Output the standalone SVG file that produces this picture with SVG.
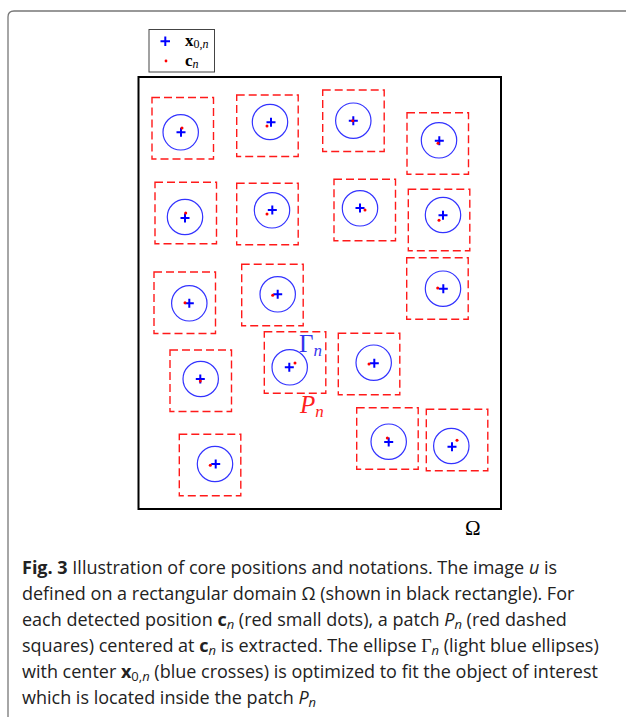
<svg xmlns="http://www.w3.org/2000/svg" width="626" height="717" viewBox="0 0 626 717">
<style>
.sq{fill:none;stroke:#ff1a1a;stroke-width:1.4;stroke-dasharray:8 4}
.el{fill:none;stroke:#3333ff;stroke-width:1.2}
.cr{stroke:#0000ff;stroke-width:2;fill:none}
.dt{fill:#ff0000}
.math{font-family:"Liberation Serif","DejaVu Serif",serif}
.cap{font-family:"Open Sans","Liberation Sans",sans-serif;font-size:18px;fill:#222}
</style>
<rect width="626" height="717" fill="#ffffff"/>
<path id="frame" d="M8,720 L8,17 Q8,11 14,11 L630,11" fill="none" stroke="#777" stroke-width="1.3"/>
<g id="legend">
<rect x="149" y="29.5" width="65.5" height="42.5" fill="#fff" stroke="#444" stroke-width="1"/>
<path class="cr" d="M160.5,41.3h9.5M165.3,36.5v9.5"/>
<circle class="dt" cx="166" cy="61" r="1.4"/>
<text class="math" x="185" y="45.5" font-size="17" font-weight="bold">x<tspan font-weight="normal" font-size="12" dy="2.5">0,</tspan><tspan font-weight="normal" font-style="italic" font-size="12">n</tspan></text>
<text class="math" x="185" y="65.5" font-size="17" font-weight="bold">c<tspan font-weight="normal" font-style="italic" font-size="12" dy="2.5">n</tspan></text>
</g>
<g id="domain">
<rect x="138.5" y="77" width="362.5" height="432" fill="none" stroke="#000" stroke-width="2"/>
<text class="math" x="465" y="535" font-size="21">Ω</text>
</g>
<g id="patch1"><rect class="sq" x="152" y="97.5" width="61.5" height="61.5"/><circle class="el" cx="180.7" cy="132.3" r="17.7"/><path class="cr" d="M176.5,132.3h9M181,127.8v9"/><circle class="dt" cx="182" cy="128" r="1.5"/></g>
<g id="patch2"><rect class="sq" x="236.7" y="95" width="61.5" height="61.5"/><circle class="el" cx="270" cy="122" r="17.7"/><path class="cr" d="M266.5,122.3h9M271,117.8v9"/><circle class="dt" cx="267" cy="126" r="1.5"/></g>
<g id="patch3"><rect class="sq" x="322.7" y="90" width="61.5" height="61.5"/><circle class="el" cx="353.3" cy="120.7" r="17.7"/><path class="cr" d="M348.8,120.7h9M353.3,116.2v9"/><circle class="dt" cx="352.7" cy="120.7" r="1.5"/></g>
<g id="patch4"><rect class="sq" x="407" y="112.7" width="61.5" height="61.5"/><circle class="el" cx="439" cy="140.3" r="17.7"/><path class="cr" d="M434.8,140.7h9M439.3,136.2v9"/><circle class="dt" cx="438" cy="143.3" r="1.5"/></g>
<g id="patch5"><rect class="sq" x="155" y="182.3" width="61.5" height="61.5"/><circle class="el" cx="185" cy="217" r="17.7"/><path class="cr" d="M180.5,218h9M185,213.5v9"/><circle class="dt" cx="185.7" cy="213" r="1.5"/></g>
<g id="patch6"><rect class="sq" x="236.7" y="183.3" width="61.5" height="61.5"/><circle class="el" cx="272" cy="210.3" r="17.7"/><path class="cr" d="M267.8,210h9M272.3,205.5v9"/><circle class="dt" cx="267" cy="214" r="1.5"/></g>
<g id="patch7"><rect class="sq" x="334" y="179.3" width="61.5" height="61.5"/><circle class="el" cx="360" cy="208.3" r="17.7"/><path class="cr" d="M355.5,208h9M360,203.5v9"/><circle class="dt" cx="365" cy="210" r="1.5"/></g>
<g id="patch8"><rect class="sq" x="408.3" y="189.3" width="61.5" height="61.5"/><circle class="el" cx="443" cy="215" r="17.7"/><path class="cr" d="M438.5,215.3h9M443,210.8v9"/><circle class="dt" cx="439" cy="220.3" r="1.5"/></g>
<g id="patch9"><rect class="sq" x="154" y="272" width="61.5" height="61.5"/><circle class="el" cx="189.3" cy="303.3" r="17.7"/><path class="cr" d="M184.8,303.3h9M189.3,298.8v9"/><circle class="dt" cx="185" cy="302.7" r="1.5"/></g>
<g id="patch10"><rect class="sq" x="241.7" y="264.3" width="61.5" height="61.5"/><circle class="el" cx="277.7" cy="294.3" r="17.7"/><path class="cr" d="M273.2,294.3h9M277.7,289.8v9"/><circle class="dt" cx="272.7" cy="295.3" r="1.5"/></g>
<g id="patch11"><rect class="sq" x="406.7" y="257.7" width="61.5" height="61.5"/><circle class="el" cx="443" cy="288.7" r="17.7"/><path class="cr" d="M438.8,288.7h9M443.3,284.2v9"/><circle class="dt" cx="437.7" cy="288" r="1.5"/></g>
<g id="patch12"><rect class="sq" x="170" y="350" width="61.5" height="61.5"/><circle class="el" cx="200.7" cy="379" r="17.7"/><path class="cr" d="M195.8,379h9M200.3,374.5v9"/><circle class="dt" cx="200.3" cy="381" r="1.5"/></g>
<g id="patch13"><rect class="sq" x="264.3" y="331.7" width="61.5" height="61.5"/><circle class="el" cx="289.7" cy="367.3" r="17.7"/><path class="cr" d="M284.8,367.3h9M289.3,362.8v9"/><circle class="dt" cx="295" cy="363" r="1.5"/>
<text class="math" x="299" y="351.7" font-size="25" fill="#3535ee">Γ<tspan font-style="italic" font-size="17" dy="4">n</tspan></text>
<text class="math" x="300" y="413.3" font-size="25" font-style="italic" fill="#ff2020">P<tspan font-size="17" dy="4">n</tspan></text></g>
<g id="patch14"><rect class="sq" x="338.3" y="333.3" width="61.5" height="61.5"/><circle class="el" cx="373.7" cy="362.7" r="17.7"/><path class="cr" d="M369.8,363.3h9M374.3,358.8v9"/><circle class="dt" cx="369" cy="364" r="1.5"/></g>
<g id="patch15"><rect class="sq" x="356.7" y="407.7" width="61.5" height="61.5"/><circle class="el" cx="388.7" cy="441.7" r="17.7"/><path class="cr" d="M384.2,442h9M388.7,437.5v9"/><circle class="dt" cx="387.3" cy="438" r="1.5"/></g>
<g id="patch16"><rect class="sq" x="426.3" y="409.3" width="61.5" height="61.5"/><circle class="el" cx="451.3" cy="446" r="17.7"/><path class="cr" d="M447.5,446.7h9M452,442.2v9"/><circle class="dt" cx="457" cy="440.3" r="1.5"/></g>
<g id="patch17"><rect class="sq" x="179.3" y="434.3" width="61.5" height="61.5"/><circle class="el" cx="215" cy="464" r="17.7"/><path class="cr" d="M211.2,464h9M215.7,459.5v9"/><circle class="dt" cx="210.3" cy="465.3" r="1.5"/></g>
<g id="caption">
<text class="cap" x="22" y="574"><tspan font-weight="bold">Fig. 3</tspan> Illustration of core positions and notations. The image <tspan font-style="italic">u</tspan> is</text>
<text class="cap" x="22" y="600">defined on a rectangular domain Ω (shown in black rectangle). For</text>
<text class="cap" x="22" y="626">each detected position <tspan font-weight="bold">c</tspan><tspan font-style="italic" font-size="13" dy="3">n</tspan><tspan dy="-3"> (red small dots), a patch </tspan><tspan font-style="italic">P</tspan><tspan font-style="italic" font-size="13" dy="3">n</tspan><tspan dy="-3"> (red dashed</tspan></text>
<text class="cap" x="22" y="652">squares) centered at <tspan font-weight="bold">c</tspan><tspan font-style="italic" font-size="13" dy="3">n</tspan><tspan dy="-3"> is extracted. The ellipse </tspan><tspan font-family="Liberation Serif,serif">Γ</tspan><tspan font-style="italic" font-size="13" dy="3">n</tspan><tspan dy="-3"> (light blue ellipses)</tspan></text>
<text class="cap" x="22" y="678">with center <tspan font-weight="bold">x</tspan><tspan font-size="13" dy="3">0,</tspan><tspan font-style="italic" font-size="13">n</tspan><tspan dy="-3"> (blue crosses) is optimized to fit the object of interest</tspan></text>
<text class="cap" x="22" y="704">which is located inside the patch <tspan font-style="italic">P</tspan><tspan font-style="italic" font-size="13" dy="3">n</tspan></text>
</g>
</svg>
